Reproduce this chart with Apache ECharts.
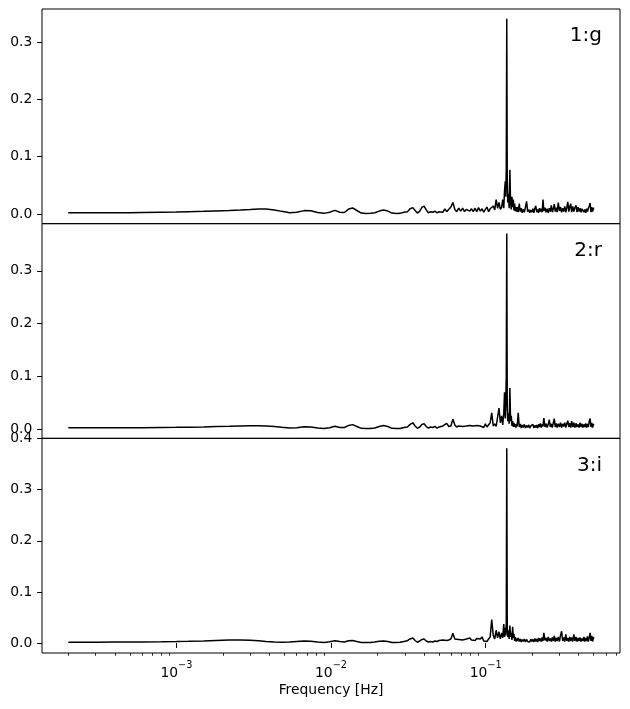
<!DOCTYPE html>
<html>
<head>
<meta charset="utf-8">
<script src="https://cdn.jsdelivr.net/npm/echarts@6/dist/echarts.min.js"></script>
<style>
  html, body { margin: 0; padding: 0; background: #fff; }
  #chart { width: 630px; height: 709px; }
</style>
</head>
<body>
<div id="chart"></div>
<script>
// frequency grid [Hz], shared by the three bands
const freq = [
  0.0002, 0.0003, 0.0004, 0.0005, 0.0006, 0.0008, 0.001, 0.0012, 0.0015, 0.0018,
  0.0022, 0.0026, 0.003, 0.0034, 0.0038, 0.0043, 0.0048, 0.0054, 0.006, 0.0067,
  0.0074, 0.0082, 0.009, 0.0098, 0.0106, 0.0114, 0.0122, 0.013, 0.0138, 0.0147,
  0.0157, 0.0168, 0.018, 0.0192, 0.0205, 0.0219, 0.0233, 0.0248, 0.0264, 0.028,
  0.0296,
  0.0312, 0.0325, 0.0338, 0.035, 0.0362, 0.0375, 0.0388, 0.04, 0.0413, 0.0426,
  0.044, 0.0455, 0.047, 0.0485, 0.05, 0.0515, 0.053, 0.0545, 0.056, 0.0578,
  0.0596, 0.0614, 0.0632, 0.065, 0.067, 0.069, 0.071, 0.073, 0.075, 0.077,
  0.079, 0.081, 0.0832, 0.0854, 0.0876, 0.09, 0.0924, 0.0948, 0.0972, 0.0996,
  0.102, 0.1045, 0.107, 0.1095, 0.112, 0.1145, 0.117, 0.1195, 0.122, 0.1245,
  0.127, 0.129, 0.131, 0.1325, 0.134, 0.135, 0.136, 0.137, 0.138, 0.139,
  0.1405, 0.142, 0.1435, 0.145, 0.1465, 0.148, 0.1495, 0.151, 0.1525, 0.154,
  0.1555, 0.157, 0.1585,
  0.16, 0.1625, 0.165, 0.1675, 0.17, 0.1725, 0.175, 0.178, 0.181, 0.184,
  0.187, 0.19, 0.193, 0.196, 0.199, 0.202, 0.205, 0.208, 0.211, 0.214,
  0.217, 0.22, 0.223, 0.226, 0.229, 0.232, 0.235, 0.238, 0.242, 0.246,
  0.25, 0.254, 0.258, 0.262, 0.266, 0.27, 0.274, 0.278, 0.282, 0.286,
  0.29, 0.295, 0.3, 0.305, 0.31, 0.315, 0.32, 0.325, 0.33, 0.335,
  0.34, 0.345, 0.35, 0.355, 0.36, 0.366, 0.372, 0.378, 0.384, 0.39,
  0.396, 0.402, 0.408, 0.414, 0.42, 0.426, 0.432, 0.438, 0.444, 0.45,
  0.456, 0.462, 0.468, 0.474, 0.48, 0.486, 0.492, 0.5
];

const powerG = [
  0.002, 0.002, 0.0021, 0.0022, 0.0024, 0.0028, 0.0032, 0.0038, 0.0045, 0.0052,
  0.006, 0.0068, 0.0078, 0.0088, 0.0085, 0.007, 0.0045, 0.0022, 0.003, 0.0058,
  0.0055, 0.0025, 0.001, 0.003, 0.0062, 0.003, 0.0025, 0.0085, 0.0105, 0.006,
  0.0015, 0.0008, 0.001, 0.002, 0.005, 0.007, 0.005, 0.0015, 0.0008, 0.001,
  0.003,
  0.004, 0.009, 0.011, 0.006, 0.0015, 0.005, 0.012, 0.0135, 0.007, 0.002,
  0.004, 0.003, 0.005, 0.002, 0.004, 0.006, 0.003, 0.009, 0.004, 0.008,
  0.012, 0.02, 0.008, 0.004, 0.01, 0.005, 0.01, 0.004, 0.008, 0.011,
  0.005, 0.009, 0.004, 0.01, 0.004, 0.011, 0.005, 0.009, 0.003, 0.008,
  0.012, 0.004, 0.009, 0.006, 0.014, 0.007, 0.025, 0.01, 0.02, 0.008,
  0.012, 0.025, 0.01, 0.04, 0.057, 0.03, 0.08, 0.341, 0.06, 0.02,
  0.035, 0.01, 0.077, 0.02, 0.008, 0.03, 0.012, 0.025, 0.006, 0.018,
  0.005, 0.012, 0.004,
  0.012, 0.003, 0.018, 0.004, 0.01, 0.002, 0.008, 0.003, 0.012, 0.022,
  0.004, 0.008, 0.002, 0.007, 0.003, 0.009, 0.002, 0.01, 0.014, 0.003,
  0.008, 0.002, 0.01, 0.004, 0.009, 0.003, 0.025, 0.005, 0.011, 0.003,
  0.009, 0.002, 0.01, 0.004, 0.015, 0.003, 0.009, 0.017, 0.004, 0.011,
  0.003, 0.02, 0.005, 0.012, 0.003, 0.01, 0.004, 0.013, 0.003, 0.011,
  0.021, 0.004, 0.012, 0.018, 0.003, 0.013, 0.004, 0.011, 0.015, 0.003,
  0.012, 0.004, 0.01, 0.003, 0.009, 0.012, 0.003, 0.008, 0.002, 0.009,
  0.004, 0.01, 0.014, 0.019, 0.003, 0.012, 0.004, 0.011
];

const powerR = [
  0.0025, 0.0025, 0.0026, 0.0027, 0.0028, 0.003, 0.0033, 0.0037, 0.0042, 0.0048,
  0.0054, 0.006, 0.0064, 0.0065, 0.006, 0.005, 0.0035, 0.0022, 0.0025, 0.0045,
  0.0042, 0.002, 0.001, 0.0025, 0.0055, 0.003, 0.003, 0.007, 0.0085, 0.005,
  0.0015, 0.001, 0.001, 0.002, 0.005, 0.007, 0.005, 0.0015, 0.001, 0.0012,
  0.003,
  0.004, 0.009, 0.012, 0.006, 0.0015, 0.004, 0.009, 0.01, 0.005, 0.002,
  0.004, 0.003, 0.005, 0.002, 0.004, 0.003, 0.006, 0.008, 0.011, 0.005,
  0.006, 0.019, 0.008, 0.004, 0.006, 0.004, 0.005, 0.003, 0.006, 0.004,
  0.007, 0.004, 0.006, 0.003, 0.007, 0.004, 0.006, 0.008, 0.003, 0.01,
  0.004, 0.006, 0.012, 0.031, 0.006, 0.01, 0.005, 0.008, 0.04, 0.012,
  0.025, 0.008, 0.03, 0.07, 0.02, 0.05, 0.1, 0.371, 0.04, 0.015,
  0.03, 0.01, 0.078, 0.015, 0.025, 0.006, 0.015, 0.004, 0.012, 0.004,
  0.009, 0.003, 0.01,
  0.005, 0.031, 0.004, 0.01, 0.002, 0.008, 0.003, 0.009, 0.002, 0.007,
  0.003, 0.008, 0.002, 0.006, 0.003, 0.009, 0.002, 0.007, 0.003, 0.008,
  0.002, 0.009, 0.004, 0.011, 0.003, 0.009, 0.005, 0.021, 0.004, 0.01,
  0.003, 0.009, 0.018, 0.004, 0.01, 0.003, 0.012, 0.02, 0.004, 0.011,
  0.003, 0.01, 0.004, 0.012, 0.003, 0.01, 0.005, 0.012, 0.003, 0.01,
  0.016, 0.004, 0.011, 0.003, 0.015, 0.004, 0.012, 0.003, 0.011, 0.004,
  0.009, 0.003, 0.012, 0.004, 0.01, 0.003, 0.009, 0.004, 0.011, 0.003,
  0.01, 0.004, 0.015, 0.02, 0.004, 0.012, 0.003, 0.01
];

const powerI = [
  0.0015, 0.0016, 0.0018, 0.002, 0.0022, 0.0026, 0.003, 0.0035, 0.0042, 0.005,
  0.0058, 0.006, 0.0055, 0.0045, 0.0032, 0.002, 0.0015, 0.0018, 0.0028, 0.0038,
  0.0035, 0.002, 0.0012, 0.0025, 0.0045, 0.0028, 0.002, 0.0045, 0.005, 0.003,
  0.0012, 0.001, 0.0012, 0.002, 0.0035, 0.0042, 0.003, 0.0012, 0.001, 0.0015,
  0.003,
  0.0045, 0.008, 0.01, 0.005, 0.0015, 0.004, 0.007, 0.008, 0.004, 0.002,
  0.003, 0.002, 0.004, 0.003, 0.005, 0.003, 0.006, 0.009, 0.005, 0.006,
  0.008, 0.019, 0.008, 0.005, 0.007, 0.004, 0.006, 0.004, 0.008, 0.005,
  0.01, 0.006, 0.008, 0.005, 0.009, 0.006, 0.008, 0.012, 0.004, 0.007,
  0.003, 0.008, 0.012, 0.046, 0.015, 0.008, 0.025, 0.01, 0.022, 0.008,
  0.02, 0.01, 0.037, 0.012, 0.03, 0.015, 0.04, 0.381, 0.03, 0.012,
  0.025, 0.008, 0.034, 0.012, 0.02, 0.006, 0.032, 0.01, 0.018, 0.004,
  0.012, 0.003, 0.009,
  0.004, 0.01, 0.003, 0.008, 0.002, 0.007, 0.003, 0.008, 0.002, 0.007,
  0.003, 0.006, 0.002, 0.008, 0.003, 0.007, 0.002, 0.009, 0.003, 0.008,
  0.002, 0.01, 0.004, 0.009, 0.003, 0.011, 0.004, 0.02, 0.005, 0.01,
  0.003, 0.012, 0.004, 0.009, 0.003, 0.011, 0.004, 0.014, 0.003, 0.01,
  0.004, 0.012, 0.003, 0.015, 0.023, 0.004, 0.011, 0.003, 0.017, 0.004,
  0.01, 0.003, 0.012, 0.004, 0.011, 0.003, 0.017, 0.004, 0.012, 0.003,
  0.01, 0.004, 0.011, 0.003, 0.009, 0.004, 0.012, 0.003, 0.01, 0.004,
  0.013, 0.003, 0.011, 0.02, 0.004, 0.014, 0.003, 0.012
];

const bandNames = ['1:g', '2:r', '3:i'];
const yTickValues = [
  [0, 0.1, 0.2, 0.3],
  [0, 0.1, 0.2, 0.3],
  [0, 0.1, 0.2, 0.3, 0.4]
];
const yRanges = [[-0.017, 0.358], [-0.0175, 0.3895], [-0.0195, 0.4005]];
const xMajorExp = [-3, -2, -1];   // decades shown as 10^n
const xRange = [-3.869, -0.131];  // log10(Hz)

const FONT = 'DejaVu Sans';
const panelTop = [9, 223.67, 438.33];
const panelH = 214.67;

// minor ticks at 2..9 x 10^n (log10 positions)
const xMinor = [];
for (let e = -4; e <= -1; e++) {
  for (let m = 2; m <= 9; m++) {
    const v = Math.log10(m) + e;
    if (v > xRange[0] && v < xRange[1]) xMinor.push(v);
  }
}

const powers = [powerG, powerR, powerI];

const grid = panelTop.map(t => ({
  left: 42, right: 10, top: t, height: panelH,
  show: true, borderColor: '#000', borderWidth: 1, backgroundColor: 'transparent'
}));

const xAxis = panelTop.map((t, i) => {
  const bottom = i === 2;
  return {
    type: 'value', gridIndex: i, min: xRange[0], max: xRange[1],
    axisLine: { show: false }, splitLine: { show: false },
    axisTick: bottom
      ? { customValues: xMajorExp, length: 4.9, lineStyle: { color: '#000', width: 1 } }
      : { show: false },
    axisLabel: bottom
      ? {
          customValues: xMajorExp, margin: 7,
          formatter: v => '{b|10}{s|\u2212' + Math.round(-v) + '}',
          rich: {
            b: { fontFamily: FONT, fontSize: 13.9, color: '#000', lineHeight: 20, verticalAlign: 'bottom' },
            s: { fontFamily: FONT, fontSize: 9.7, color: '#000', lineHeight: 10, verticalAlign: 'top' }
          }
        }
      : { show: false },
    name: bottom ? 'Frequency [Hz]' : '',
    nameLocation: 'middle', nameGap: 30,
    nameTextStyle: { fontFamily: FONT, fontSize: 13.9, color: '#000' }
  };
});
// minor ticks on the bottom panel
xAxis.push({
  type: 'value', gridIndex: 2, min: xRange[0], max: xRange[1], position: 'bottom',
  axisLine: { show: false }, splitLine: { show: false }, axisLabel: { show: false },
  axisTick: { customValues: xMinor, length: 2.8, lineStyle: { color: '#000', width: 0.8 } }
});

const yAxis = panelTop.map((t, i) => ({
  type: 'value', gridIndex: i, min: yRanges[i][0], max: yRanges[i][1],
  axisLine: { show: false }, splitLine: { show: false },
  axisTick: { customValues: yTickValues[i], length: 4.9, lineStyle: { color: '#000', width: 1 } },
  axisLabel: {
    customValues: yTickValues[i], margin: 9.7, color: '#000',
    fontFamily: FONT, fontSize: 13.9, formatter: v => v.toFixed(1)
  }
}));

const series = powers.map((p, i) => ({
  type: 'line', xAxisIndex: i, yAxisIndex: i,
  showSymbol: false, symbol: 'none',
  lineStyle: { color: '#000', width: 1.5 },
  data: freq.map((f, k) => [Math.log10(f), p[k]])
}));

const graphic = bandNames.map((name, i) => ({
  type: 'text',
  style: {
    text: name, x: 602, y: panelTop[i] + 27,
    align: 'right', verticalAlign: 'middle',
    textAlign: 'right', textVerticalAlign: 'middle',
    font: '20px "DejaVu Sans"', fill: '#000'
  }
}));

const chart = echarts.init(document.getElementById('chart'), null, { renderer: 'canvas' });
chart.setOption({
  animation: false,
  backgroundColor: '#fff',
  grid, xAxis, yAxis, series, graphic
});
</script>
</body>
</html>
